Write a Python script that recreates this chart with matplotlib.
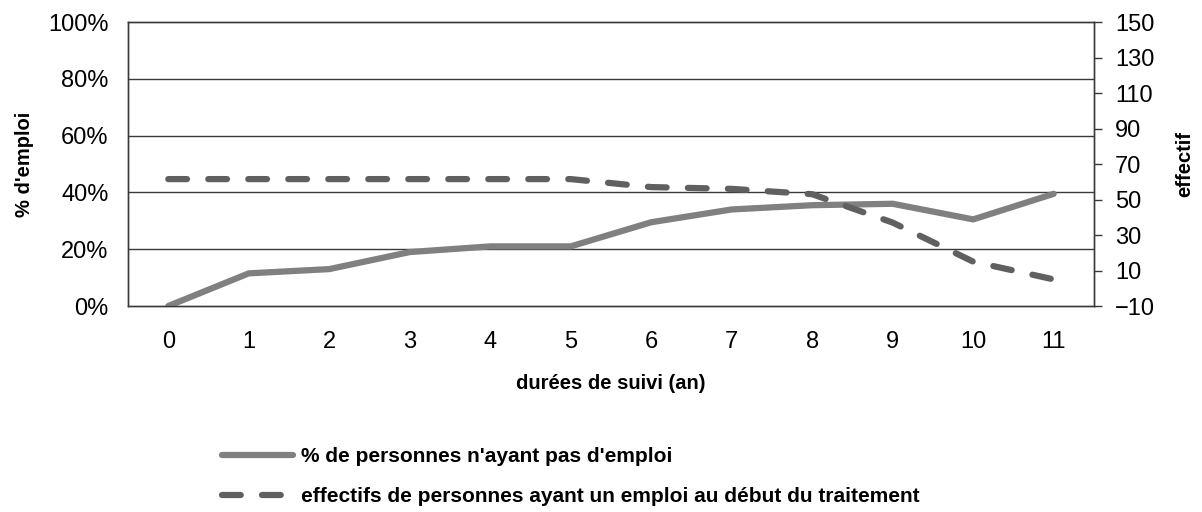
import matplotlib.pyplot as plt
from matplotlib.ticker import FuncFormatter

plt.rcParams['font.family'] = ['Liberation Sans', 'DejaVu Sans']

years = [0, 1, 2, 3, 4, 5, 6, 7, 8, 9, 10, 11]
pct_no_job = [0, 11.5, 13, 19, 21, 21, 29.5, 34, 35.5, 36, 30.5, 39.5]
effectifs = [61.5, 61.5, 61.5, 61.5, 61.5, 61.5, 57, 56, 53, 37, 15, 5]

label_pct = "% de personnes n'ayant pas d'emploi"
label_eff = "effectifs de personnes ayant un emploi au début du traitement"


def main():
    fig = plt.figure(figsize=(12.02, 5.12), dpi=100)
    ax = fig.add_axes([0.1065, 0.4023, 0.8036, 0.5547])
    ax2 = ax.twinx()

    x = [y + 0.5 for y in years]
    l1, = ax.plot(x, pct_no_job, color='#808080', lw=4.5, solid_capstyle='round',
                  solid_joinstyle='round', zorder=3)
    l2, = ax2.plot(x, effectifs, color='#606060', lw=4.5, dashes=(3.0, 3.4),
                   dash_capstyle='round', zorder=3)

    ax.set_xlim(0, 12)
    ax.set_ylim(0, 100)
    ax.set_yticks(range(0, 101, 20))
    ax.yaxis.set_major_formatter(FuncFormatter(lambda v, p: '%d%%' % v))
    ax.set_xticks(x)
    ax.set_xticklabels([str(y) for y in years])
    ax.tick_params(axis='y', length=0, labelsize=17, pad=14)
    ax.tick_params(axis='x', length=0, labelsize=17, pad=18)
    for v in range(20, 100, 20):
        ax.axhline(v, color='#3a3a3a', lw=1.0, zorder=1)

    ax2.set_ylim(-10, 150)
    ax2.set_yticks(range(-10, 151, 20))
    ax2.tick_params(axis='y', length=6, width=1, color='#3a3a3a', labelsize=17,
                    direction='out', pad=9)

    for a in (ax, ax2):
        for s in a.spines.values():
            s.set_color('#3a3a3a')
            s.set_linewidth(1.0)

    ax.set_xlabel('durées de suivi (an)', fontsize=14.5, fontweight='bold', labelpad=15)
    ax.set_ylabel("% d'emploi", fontsize=14.5, fontweight='bold', labelpad=10)
    ax2.set_ylabel('effectif', fontsize=14.5, fontweight='bold', labelpad=15)

    fig.legend([l1, l2], [label_pct, label_eff], loc='upper left',
               bbox_to_anchor=(0.1847, 0.126), frameon=False,
               prop={'size': 15, 'weight': 'bold'}, handlelength=3.4,
               handletextpad=0.4, labelspacing=1.0, borderaxespad=0,
               borderpad=0)

    fig.savefig('out.png', dpi=100)


if __name__ == '__main__':
    main()
